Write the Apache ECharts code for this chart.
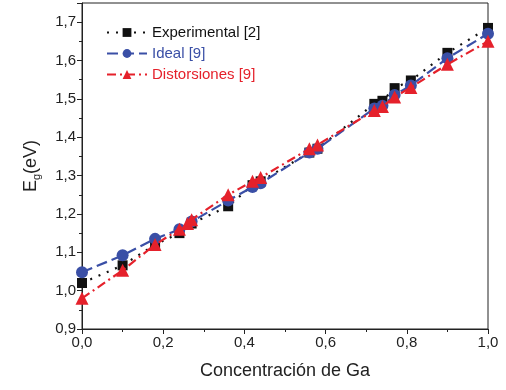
<!DOCTYPE html>
<html><head><meta charset="utf-8">
<script src="https://cdn.jsdelivr.net/npm/echarts@6/dist/echarts.min.js"></script>
<style>html,body{margin:0;padding:0;background:#fff}#c{width:506px;height:390px}</style>
</head><body><div id="c"></div>
<script>
const seriesNames = ['Experimental [2]', 'Ideal [9]', 'Distorsiones [9]'];
const xExp = [0, 0.10, 0.18, 0.24, 0.27, 0.36, 0.42, 0.44, 0.56, 0.58, 0.72, 0.74, 0.77, 0.81, 0.90, 1.0];
const yExp = [1.02, 1.066, 1.12, 1.15, 1.175, 1.22, 1.275, 1.285, 1.36, 1.37, 1.487, 1.495, 1.528, 1.548, 1.62, 1.685];
const xIdeal = [0, 0.10, 0.18, 0.24, 0.27, 0.36, 0.42, 0.44, 0.56, 0.58, 0.72, 0.74, 0.77, 0.81, 0.90, 1.0];
const yIdeal = [1.048, 1.092, 1.135, 1.16, 1.18, 1.235, 1.27, 1.28, 1.36, 1.37, 1.475, 1.482, 1.51, 1.535, 1.606, 1.67];
const xDist = [0, 0.10, 0.18, 0.24, 0.26, 0.27, 0.36, 0.42, 0.44, 0.56, 0.58, 0.72, 0.74, 0.77, 0.81, 0.90, 1.0];
const yDist = [0.98, 1.053, 1.12, 1.16, 1.175, 1.185, 1.25, 1.285, 1.295, 1.37, 1.38, 1.47, 1.48, 1.505, 1.53, 1.59, 1.65];
const colors = ['#111111', '#3a4fa6', '#e5212b'];

const zip = (xs, ys) => xs.map((x, i) => [x, ys[i]]);
const fmt = v => (Math.abs(v * 10 - Math.round(v * 10)) > 1e-6) ? '' : v.toFixed(1).replace('.', ',');
const FONT = 'Liberation Sans, Arial';

const chart = echarts.init(document.getElementById('c'), null, {renderer: 'canvas'});
const axisCommon = {
  axisLine: {show: true, lineStyle: {color: '#222', width: 1}},
  axisTick: {show: true, inside: false, length: 5, lineStyle: {color: '#222'}},
  minorTick: {show: true, splitNumber: 2, length: 3, lineStyle: {color: '#222'}},
  splitLine: {show: false},
  axisLabel: {color: '#222', fontSize: 15, fontFamily: FONT, formatter: fmt}
};
chart.setOption({
  animation: false,
  grid: {left: 82, right: 18, top: 3, bottom: 61, show: true, borderColor: '#222', borderWidth: 1},
  legend: {
    orient: 'vertical', left: 101, top: 20, itemWidth: 40, itemHeight: 11, itemGap: 6,
    textStyle: {fontSize: 15, fontFamily: FONT},
    data: seriesNames.map((n, i) => ({name: n, textStyle: {color: colors[i]}}))
  },
  xAxis: Object.assign({}, axisCommon, {
    type: 'value', min: 0, max: 1, interval: 0.2,
    name: 'Concentración de Ga', nameLocation: 'middle', nameGap: 33,
    nameTextStyle: {fontSize: 18, color: '#222', fontFamily: FONT},
    axisLabel: Object.assign({}, axisCommon.axisLabel, {margin: 6})
  }),
  yAxis: Object.assign({}, axisCommon, {
    type: 'value', min: 0.9, max: 1.75, interval: 0.1,
    name: '{a|E}{b|g}{a|(eV)}', nameLocation: 'middle', nameGap: 40, nameRotate: 90,
    nameTextStyle: {
      color: '#222', fontFamily: FONT,
      rich: {
        a: {fontSize: 18, color: '#222', fontFamily: FONT, lineHeight: 22, verticalAlign: 'middle'},
        b: {fontSize: 11, color: '#222', fontFamily: FONT, lineHeight: 22, verticalAlign: 'bottom', padding: [12, 0, 0, 0]}
      }
    },
    axisLabel: Object.assign({}, axisCommon.axisLabel, {margin: 6, showMaxLabel: false})
  }),
  series: [
    {name: seriesNames[0], type: 'line', data: zip(xExp, yExp), symbol: 'rect', symbolSize: 10,
      itemStyle: {color: colors[0]}, lineStyle: {color: colors[0], width: 2.2, type: [2, 7]}, z: 2},
    {name: seriesNames[1], type: 'line', data: zip(xIdeal, yIdeal), symbol: 'circle', symbolSize: 12,
      itemStyle: {color: colors[1]}, lineStyle: {color: colors[1], width: 2.2, type: [11, 5]}, z: 3},
    {name: seriesNames[2], type: 'line', data: zip(xDist, yDist), symbol: 'triangle', symbolSize: 13,
      itemStyle: {color: colors[2]}, lineStyle: {color: colors[2], width: 2.2, type: [9, 4, 2, 4]}, z: 4}
  ]
});
</script></body></html>
